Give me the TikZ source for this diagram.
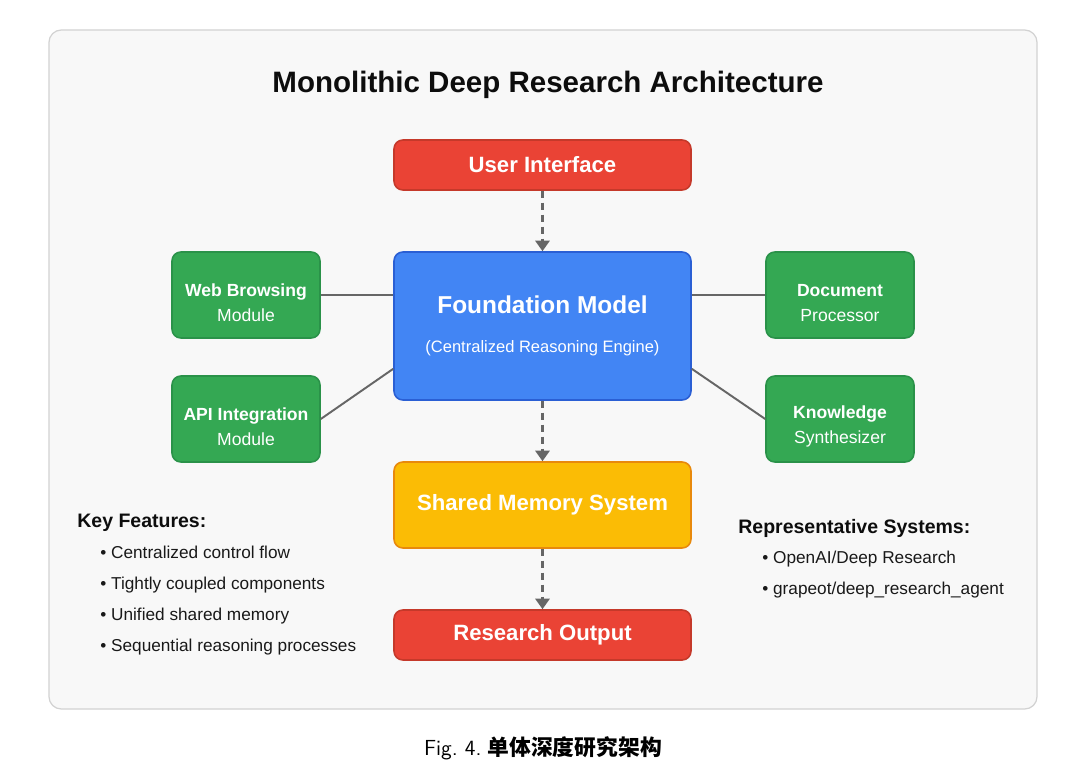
\documentclass[tikz,border=0pt]{standalone}
\usepackage{fontspec}
\setmainfont{Liberation Sans}
\newfontfamily\cjk{Noto Sans CJK SC}
\usetikzlibrary{arrows.meta}
\definecolor{gred}{HTML}{EA4335}
\definecolor{gredline}{HTML}{C5392A}
\definecolor{gblue}{HTML}{4285F4}
\definecolor{gblueline}{HTML}{2A5FD4}
\definecolor{ggreen}{HTML}{34A853}
\definecolor{ggreenline}{HTML}{2A9249}
\definecolor{gyellow}{HTML}{FBBC05}
\definecolor{gyellowline}{HTML}{E8890C}
\definecolor{linkgray}{HTML}{666666}
\definecolor{framebg}{HTML}{F8F8F8}
\definecolor{frameline}{HTML}{D2D2D2}
\newcommand{\topstrut}{\rule{0pt}{15.5pt}}

\begin{document}
\begin{tikzpicture}[x=0.02cm, y=-0.02cm,
    box/.style={rounded corners=5pt, line width=0.9pt, text=white, align=center},
    module/.style={box, fill=ggreen, draw=ggreenline, minimum width=2.96cm, minimum height=1.72cm,
        font=\fontsize{10}{14.2}\selectfont},
    wide/.style={box, minimum width=5.94cm, font=\fontsize{12.6}{15}\selectfont\bfseries},
    flow/.style={draw=linkgray, line width=1.5pt, dash pattern=on 4pt off 2.8pt,
        -{Triangle[width=8pt,length=6pt]}},
    link/.style={draw=linkgray, line width=1.1pt},
    item/.style={anchor=base west, inner sep=0pt, text=black!90, font=\fontsize{9.8}{12}\selectfont},
    head/.style={anchor=base west, inner sep=0pt, text=black!95, font=\fontsize{11.1}{13}\selectfont\bfseries}]
    \fill[white] (0,0) rectangle (1080,769);
    \useasboundingbox (0,0) rectangle (1080,769);
    % panel
    \draw[frameline, fill=framebg, line width=0.7pt, rounded corners=7pt] (49,30) rectangle (1037,709);
    \node[font=\fontsize{16.8}{20}\selectfont\bfseries, text=black!95] (title) at (548,85)
        {Monolithic Deep Research Architecture};

    % main column
    \node[wide, fill=gred, draw=gredline, minimum height=1cm] (ui) at (542.5,165) {User Interface};
    \node[box, fill=gblue, draw=gblueline, minimum width=5.94cm, minimum height=2.96cm,
        font=\fontsize{9.4}{22.5}\selectfont] (fm) at (542.5,326)
        {{\fontsize{13.9}{22.5}\selectfont\bfseries Foundation Model}\\(Centralized Reasoning Engine)};
    \node[wide, fill=gyellow, draw=gyellowline, minimum height=1.72cm] (mem) at (542.5,505) {Shared Memory System};
    \node[wide, fill=gred, draw=gredline, minimum height=1cm] (out) at (542.5,635) {Research Output};

    % modules
    \node[module] (web) at (246,295) {\topstrut\textbf{Web Browsing}\\Module};
    \node[module] (api) at (246,419) {\topstrut\textbf{API Integration}\\Module};
    \node[module] (doc) at (840,295) {\topstrut\textbf{Document}\\Processor};
    \node[module] (syn) at (840,419) {\topstrut\textbf{Knowledge}\\Synthesizer};

    % connectors
    \draw[flow] (ui) -- (fm);
    \draw[flow] (fm) -- (mem);
    \draw[flow] (mem) -- (out);
    \draw[link] (web.east) -- (web.east -| fm.west);
    \draw[link] (doc.west) -- (doc.west -| fm.east);
    \draw[link] (api.east) -- (fm.196.5);
    \draw[link] (syn.west) -- (fm.-16.5);

    % notes
    \node[head] (feat) at (77,527) {Key Features:};
    \foreach \txt [count=\i] in {Centralized control flow, Tightly coupled components,
        Unified shared memory, Sequential reasoning processes}
        \node[item] (feat\i) at (100,527+31*\i) {\textbullet\ \txt};
    \node[head] (sys) at (738,533) {Representative Systems:};
    \foreach \txt [count=\i] in {OpenAI/Deep Research, grapeot/deep\_research\_agent}
        \node[item] (sys\i) at (762,532+31*\i) {\textbullet\ \txt};

    % caption
    \node[font=\fontsize{12.4}{14}\selectfont] (cap) at (543,748)
        {{\sffamily Fig.~4.}\ {\cjk\bfseries 单体深度研究架构}};
\end{tikzpicture}
\end{document}
